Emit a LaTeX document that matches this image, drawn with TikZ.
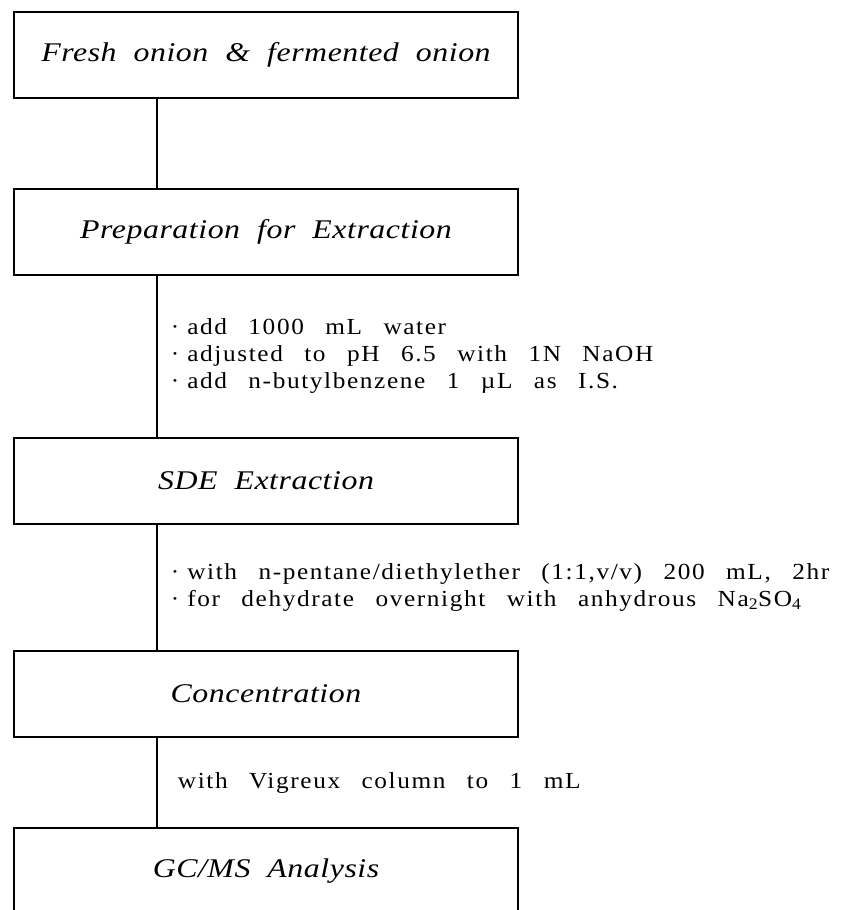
\documentclass[tikz,border=0pt]{standalone}
\usepackage{fontspec}
\setmainfont{Liberation Serif}
\newfontfamily\stagefont[FakeStretch=1.18,LetterSpace=2,WordSpace=2]{Liberation Serif}
\newfontfamily\notefont[FakeStretch=1.1,LetterSpace=7,WordSpace=2.7]{Liberation Serif}
\newcommand\dotitem{·\hspace{8pt}}
\usetikzlibrary{positioning}

\begin{document}
\begin{tikzpicture}[x=1pt,y=-1pt,node distance=177pt,on grid,line width=1.8pt]
  \tikzstyle{stage}=[draw,minimum width=504pt,minimum height=86pt,inner sep=0pt,
    font=\stagefont\fontsize{27}{30}\selectfont\itshape]
  \tikzstyle{note}=[anchor=west,align=left,inner sep=0pt,
    font=\notefont\fontsize{23}{27}\selectfont]

  \path[use as bounding box,clip] (0,0) rectangle (848,910);

  \node[stage] (fresh) at (266,55)        {Fresh onion \& fermented onion};
  \node[stage] (prep) [below=of fresh]    {Preparation for Extraction};
  \node[stage] (sde)  [below=249pt of prep] {SDE Extraction};
  \node[stage] (conc) [below=213pt of sde]  {Concentration};
  \node[stage] (gcms) [below=of conc]     {GC/MS Analysis};

  \coordinate (spine) at (157,0);
  \foreach \a/\b in {fresh/prep,prep/sde,sde/conc,conc/gcms}
    \draw (\a.south -| spine) -- (\b.north -| spine);

  \node[note] (n_prep) at (170,356) {\dotitem add 1000 mL water\\
    \dotitem adjusted to pH 6.5 with 1N NaOH\\
    \dotitem add n-butylbenzene 1 µL as I.S.};
  \node[note] (n_sde) at (170,587) {\dotitem with n-pentane/diethylether (1:1,v/v) 200 mL, 2hr\\
    \dotitem for dehydrate overnight with anhydrous Na\textsubscript{2}SO\textsubscript{4}};
  \node[note] (n_conc) at (177,783) {with Vigreux column to 1 mL};
\end{tikzpicture}
\end{document}
